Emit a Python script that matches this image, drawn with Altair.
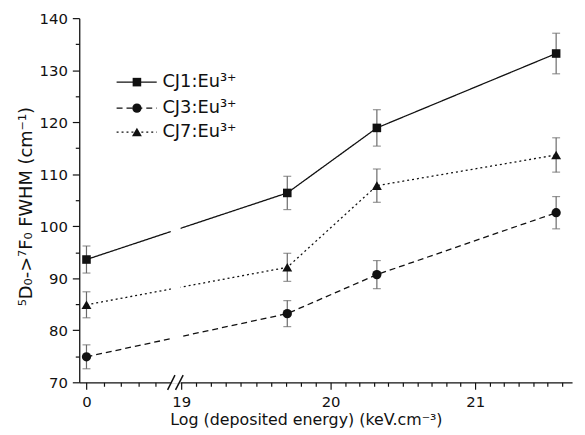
import altair as alt
import pandas as pd

# ---- data ----
series_names = ["CJ1", "CJ3", "CJ7"]
legend_labels = ["CJ1:Eu³⁺", "CJ3:Eu³⁺", "CJ7:Eu³⁺"]
x_vals = [0, 19.71, 20.32, 21.56]
cj1_vals = [93.6, 106.4, 118.9, 133.2]
cj1_err = [2.6, 3.2, 3.5, 3.9]
cj3_vals = [74.9, 83.2, 90.7, 102.6]
cj3_err = [2.3, 2.5, 2.7, 3.1]
cj7_vals = [84.9, 92.1, 107.8, 113.7]
cj7_err = [2.5, 2.7, 3.2, 3.3]

# broken x axis (piecewise scale)
x_domain = [-0.042, 0.5, 18.95, 20, 21.67]
x_range = [0, 94.3, 95.5, 254, 498]
x_ticks_left = [0, 0.1, 0.2, 0.3, 0.4]
x_ticks_right = [round(19 + i * 0.1, 1) for i in range(27)]
y_ticks = [70, 75, 80, 85, 90, 95, 100, 105, 110, 115, 120, 125, 130, 135, 140]

# axis break decorations (data units)
break_band = {"x": [0.4895], "x2": [18.996], "y": [69.7], "y2": [110]}
slashes = {"x": [0.471, 18.962], "x2": [18.958, 19.013], "y": [68.54, 68.54], "y2": [71.39, 71.39]}

# manual legend (data units)
legend_y = [127.7, 122.7, 118.1]
legend_x0, legend_x1, legend_xm, legend_xt = 0.175, 0.408, 0.293, 0.441

rows = []
for name, vals, errs in [("CJ1", cj1_vals, cj1_err), ("CJ3", cj3_vals, cj3_err), ("CJ7", cj7_vals, cj7_err)]:
    for xv, v, e in zip(x_vals, vals, errs):
        rows.append({"series": name, "x": xv, "y": v, "lo": v - e, "hi": v + e})
df = pd.DataFrame(rows)

leg = pd.DataFrame({
    "series": series_names, "label": legend_labels, "y": legend_y,
    "x0": [legend_x0] * 3, "x1": [legend_x1] * 3, "xm": [legend_xm] * 3, "xt": [legend_xt] * 3,
})
band_df = pd.DataFrame(break_band)
slash_df = pd.DataFrame(slashes)

FONT = "DejaVu Sans"
xscale = alt.Scale(type="linear", domain=x_domain, range=x_range, nice=False, zero=False)
yscale = alt.Scale(domain=[70, 140], nice=False, zero=False)

int_test = "abs(datum.value - round(datum.value)) < 0.01"
xaxis = alt.Axis(
    values=x_ticks_left + x_ticks_right,
    labelExpr=f"{int_test} ? format(datum.value, 'd') : ''",
    tickSize={"condition": {"test": int_test, "value": 7}, "value": 4},
    labelPadding=5, labelOverlap=False, labelFlush=False, grid=False,
    title="Log (deposited energy) (keV.cm⁻³)", titleX=229, titleY=43,
    titleBaseline="alphabetic", titleAlign="center", titleFontSize=16,
)
yaxis = alt.Axis(
    values=y_ticks,
    labelExpr="datum.value % 10 === 0 ? datum.value : ''",
    tickSize={"condition": {"test": "datum.value % 10 === 0", "value": 7}, "value": 4},
    labelPadding=5, labelOverlap=False, labelFlush=False, grid=False,
    title="⁵D₀->⁷F₀ FWHM (cm⁻¹)", titleX=-48, titleY=190, titleAngle=-90,
    titleBaseline="alphabetic", titleAlign="center", titleFontSize=18,
)

dash_scale = alt.Scale(domain=series_names, range=[[1, 0], [6, 4], [2, 3]])
shape_scale = alt.Scale(domain=series_names, range=["square", "circle", "triangle-up"])
size_scale = alt.Scale(domain=series_names, range=[75, 100, 105])

def X(f):
    return alt.X(f, type="quantitative", scale=xscale, axis=xaxis)

def Y(f):
    return alt.Y(f, type="quantitative", scale=yscale, axis=yaxis)

BLACK = "#111111"
GRAY = "#6a6a6a"

lines = alt.Chart(df).mark_line(color=BLACK, strokeWidth=1.3).encode(
    x=X("x"), y=Y("y"),
    strokeDash=alt.StrokeDash("series:N", scale=dash_scale, legend=None),
    detail="series:N",
)
band = alt.Chart(band_df).mark_rect(color="white", opacity=1).encode(
    x=X("x"), x2="x2", y=Y("y"), y2="y2"
)
stems = alt.Chart(df).mark_rule(color=GRAY, strokeWidth=1.2).encode(
    x=X("x"), y=Y("lo"), y2="hi"
)
cap_lo = alt.Chart(df).mark_tick(color=GRAY, orient="horizontal", size=8, thickness=1.2).encode(
    x=X("x"), y=Y("lo")
)
cap_hi = alt.Chart(df).mark_tick(color=GRAY, orient="horizontal", size=8, thickness=1.2).encode(
    x=X("x"), y=Y("hi")
)
points = alt.Chart(df).mark_point(filled=True, color=BLACK, opacity=1).encode(
    x=X("x"), y=Y("y"),
    shape=alt.Shape("series:N", scale=shape_scale, legend=None),
    size=alt.Size("series:N", scale=size_scale, legend=None),
)
leg_lines = alt.Chart(leg).mark_rule(color=BLACK, strokeWidth=1.3).encode(
    x=X("x0"), x2="x1", y=Y("y"),
    strokeDash=alt.StrokeDash("series:N", scale=dash_scale, legend=None),
)
leg_points = alt.Chart(leg).mark_point(filled=True, color=BLACK, opacity=1).encode(
    x=X("xm"), y=Y("y"),
    shape=alt.Shape("series:N", scale=shape_scale, legend=None),
    size=alt.Size("series:N", scale=size_scale, legend=None),
)
leg_text = alt.Chart(leg).mark_text(
    align="left", baseline="middle", font=FONT, fontSize=18, color=BLACK
).encode(x=X("xt"), y=Y("y"), text="label:N")
slash_marks = alt.Chart(slash_df).mark_rule(color=BLACK, strokeWidth=1.5).encode(
    x=X("x"), x2="x2", y=Y("y"), y2="y2"
)

chart = alt.layer(
    lines, band, stems, cap_lo, cap_hi, points, leg_lines, leg_points, leg_text, slash_marks
).properties(
    width=498, height=368,
    autosize=alt.AutoSizeParams(type="none"),
    padding={"left": 72, "top": 8, "right": 5, "bottom": 50},
).configure_view(stroke=None).configure_axis(
    labelFont=FONT, titleFont=FONT, labelFontSize=15, titleFontWeight="normal",
    labelColor=BLACK, titleColor=BLACK, domainColor=BLACK, tickColor=BLACK,
    domainWidth=1.3, tickWidth=1.2,
)

chart.save("out.html", embed_options={"renderer": "svg", "actions": False})
